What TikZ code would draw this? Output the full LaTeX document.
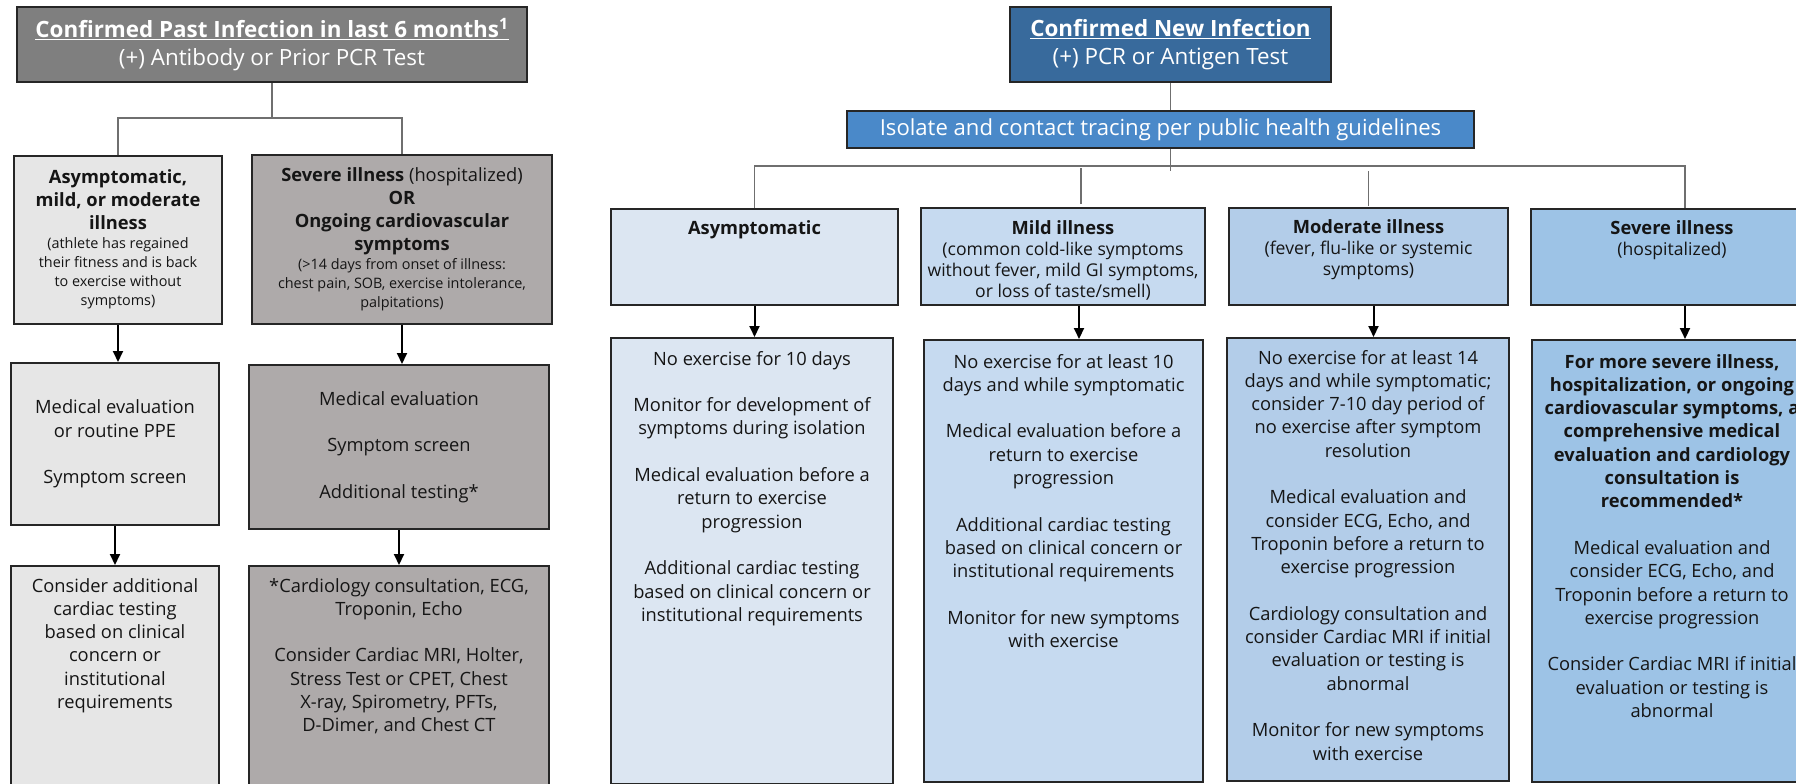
\documentclass[tikz,border=0pt]{standalone}
\usepackage{fontspec}
\setmainfont{Open Sans}
\usepackage{tikz}
\usetikzlibrary{arrows.meta, positioning}

\definecolor{ink}{HTML}{151515}
\definecolor{boxline}{HTML}{262626}
\definecolor{branchline}{HTML}{6F6F6F}
\definecolor{pastfill}{HTML}{7F7F7F}
\definecolor{pastlow}{HTML}{E6E6E6}
\definecolor{pasthigh}{HTML}{AEAAAA}
\definecolor{newfill}{HTML}{386A9C}
\definecolor{isofill}{HTML}{4A89C9}
\definecolor{asymfill}{HTML}{DCE6F2}
\definecolor{mildfill}{HTML}{C6DAF0}
\definecolor{moderfill}{HTML}{B3CDE9}
\definecolor{severefill}{HTML}{9DC3E6}

\newcommand{\txtbody}{\fontsize{18.3}{23.3}\selectfont}
\newcommand{\txtsub}{\fontsize{14.4}{19}\selectfont}
\newcommand{\txthd}{\fontsize{17.6}{21}\selectfont}
\newcommand{\txttitle}{\fontsize{22.4}{28}\selectfont}
\newcommand{\txtiso}{\fontsize{22.1}{25}\selectfont}
\newcommand{\gapline}{\\[23.3pt]}
% box of fixed size, text from the top (width, height, first baseline, text)
\newcommand{\cell}[4]{\parbox[t][#2pt][t]{#1pt}{\centering\rule{0pt}{#3pt}#4}}
% box of fixed size, text centred (width, height, text)
\newcommand{\cellc}[3]{\parbox[t][#2pt][c]{#1pt}{\centering #3}}

\begin{document}
\begin{tikzpicture}[x=1pt, y=-1pt, >={Triangle[length=11pt,width=10pt]},
    every node/.style={font=\txtbody, text=ink},
    cellbox/.style={draw=boxline, line width=2pt, inner sep=0pt, anchor=north west},
    branch/.style={draw=branchline, line width=1.5pt},
    arrowline/.style={->, draw=black, line width=2pt}]
    \useasboundingbox (0,0) rectangle (1796,784);
    \fill[white] (0,0) rectangle (1796,784);
    \clip (0,0) rectangle (1796,784);

    % Past infection branch
    \node[cellbox, fill=pastfill, text=white, font=\txttitle] (past) at (16,6)
        {\cellc{510}{75}{\textbf{\underline{Confirmed Past Infection in last 6 months\textsuperscript{1}}}\\(+) Antibody or Prior PCR Test}};
    \node[cellbox, fill=pastlow] (pastmild) at (13,155)
        {\cell{208}{168}{27}{\textbf{Asymptomatic,\\ mild, or moderate\\ illness}\par
        {\txtsub (athlete has regained\\ their fitness and is back\\ to exercise without\\ symptoms)\par}}};
    \node[cellbox, fill=pasthigh] (pastsev) at (251,154)
        {\cell{300}{169}{26}{\textbf{Severe illness} (hospitalized)\\ \textbf{OR}\\ \textbf{Ongoing cardiovascular\\ symptoms}\par
        {\txtsub (>14 days from onset of illness:\\ chest pain, SOB, exercise intolerance,\\ palpitations)\par}}};
    \node[cellbox, fill=pastlow] (pastevalA) at (10,362)
        {\cellc{208}{162}{Medical evaluation\\ or routine PPE\gapline Symptom screen}};
    \node[cellbox, fill=pasthigh] (pastevalB) at (248,364)
        {\cellc{300}{164}{Medical evaluation\gapline Symptom screen\gapline Additional testing*}};
    \node[cellbox, fill=pastlow] (pasttestA) at (10,565)
        {\cell{208}{225}{26}{Consider additional\\ cardiac testing\\ based on clinical\\ concern or\\ institutional\\ requirements}};
    \node[cellbox, fill=pasthigh] (pasttestB) at (248,565)
        {\cell{300}{225}{26}{*Cardiology consultation, ECG,\\ Troponin, Echo\gapline Consider Cardiac MRI, Holter,\\ Stress Test or CPET, Chest\\ X-ray, Spirometry, PFTs,\\ D-Dimer, and Chest CT}};

    \draw[branch] (past.south) -- ++(0,35) coordinate (pastbus);
    \draw[branch] (pastmild.north) |- (pastbus) -| (pastsev.north);
    \draw[arrowline] (pastmild.south) -- (pastmild.south |- pastevalA.north);
    \draw[arrowline] (pastsev.south) -- (pastsev.south |- pastevalB.north);
    \draw[arrowline] (pastevalA.south) -- (pastevalA.south |- pasttestA.north);
    \draw[arrowline] (pastevalB.south) -- (pastevalB.south |- pasttestB.north);

    % New infection branch
    \node[cellbox, fill=newfill, text=white, font=\txttitle] (newinf) at (1009,6)
        {\cellc{321}{75}{\textbf{\underline{Confirmed New Infection}}\\(+) PCR or Antigen Test}};
    \node[cellbox, fill=isofill, text=white, font=\txtiso] (isolate) at (846,110)
        {\cellc{627}{37}{Isolate and contact tracing per public health guidelines}};

    \node[cellbox, fill=asymfill] (asym) at (610,208)
        {\cell{287}{96}{25}{\textbf{Asymptomatic}}};
    \node[cellbox, fill=mildfill] (mild) at (920,207)
        {\cell{284}{97}{26}{\textbf{Mild illness}\par
        {\txthd (common cold-like symptoms\\ without fever, mild GI symptoms,\\ or loss of taste/smell)\par}}};
    \node[cellbox, fill=moderfill] (moder) at (1228,207)
        {\cell{279}{97}{25}{\textbf{Moderate illness}\par
        {\txthd (fever, flu-like or systemic\\ symptoms)\par}}};
    \node[cellbox, fill=severefill] (severe) at (1530,208)
        {\cell{282}{96}{25}{\textbf{Severe illness}\par
        {\txthd (hospitalized)\par}}};

    \node[cellbox, fill=asymfill] (asymplan) at (610,337)
        {\cell{282}{446}{27}{No exercise for 10 days\gapline
        Monitor for development of\\ symptoms during isolation\gapline
        Medical evaluation before a\\ return to exercise\\ progression\gapline
        Additional cardiac testing\\ based on clinical concern or\\ institutional requirements}};
    \node[cellbox, fill=mildfill] (mildplan) at (923,339)
        {\cell{279}{442}{28}{No exercise for at least 10\\ days and while symptomatic\gapline
        Medical evaluation before a\\ return to exercise\\ progression\gapline
        Additional cardiac testing\\ based on clinical concern or\\ institutional requirements\gapline
        Monitor for new symptoms\\ with exercise}};
    \node[cellbox, fill=moderfill] (moderplan) at (1226,337)
        {\cell{282}{443}{26}{No exercise for at least 14\\ days and while symptomatic;\\ consider 7-10 day period of\\ no exercise after symptom\\ resolution\gapline
        Medical evaluation and\\ consider ECG, Echo, and\\ Troponin before a return to\\ exercise progression\gapline
        Cardiology consultation and\\ consider Cardiac MRI if initial\\ evaluation or testing is\\ abnormal\gapline
        Monitor for new symptoms\\ with exercise}};
    \node[cellbox, fill=severefill] (severeplan) at (1531,339)
        {\cell{280}{442}{28}{\textbf{For more severe illness,\\ hospitalization, or ongoing\\ cardiovascular symptoms, a\\ comprehensive medical\\ evaluation and cardiology\\ consultation is\\ recommended*}\gapline
        Medical evaluation and\\ consider ECG, Echo, and\\ Troponin before a return to\\ exercise progression\gapline
        Consider Cardiac MRI if initial\\ evaluation or testing is\\ abnormal}};

    \draw[branch] (newinf.south) -- (newinf.south |- isolate.north);
    \path (newinf.south |- isolate.south) ++(0,17) coordinate (newbus);
    \draw[branch] (newinf.south |- isolate.south) -- ++(0,22);
    \coordinate (severetap) at ([xshift=13]severe.north);
    \draw[branch] (asym.north) |- (newbus) -| (severetap);
    \draw[branch] ([xshift=18,yshift=3]mild.north) -- ++(0,-36);
    \draw[branch] ([yshift=1]moder.north) -- ++(0,-35);

    \coordinate (mildtap) at ([xshift=16]mild.south);
    \coordinate (modertap) at ([xshift=5]moder.south);
    \coordinate (severeout) at ([xshift=13]severe.south);
    \draw[arrowline] (asym.south) -- (asym.south |- asymplan.north);
    \draw[arrowline] (mildtap) -- (mildtap |- mildplan.north);
    \draw[arrowline] (modertap) -- (modertap |- moderplan.north);
    \draw[arrowline] (severeout) -- (severeout |- severeplan.north);
\end{tikzpicture}
\end{document}
